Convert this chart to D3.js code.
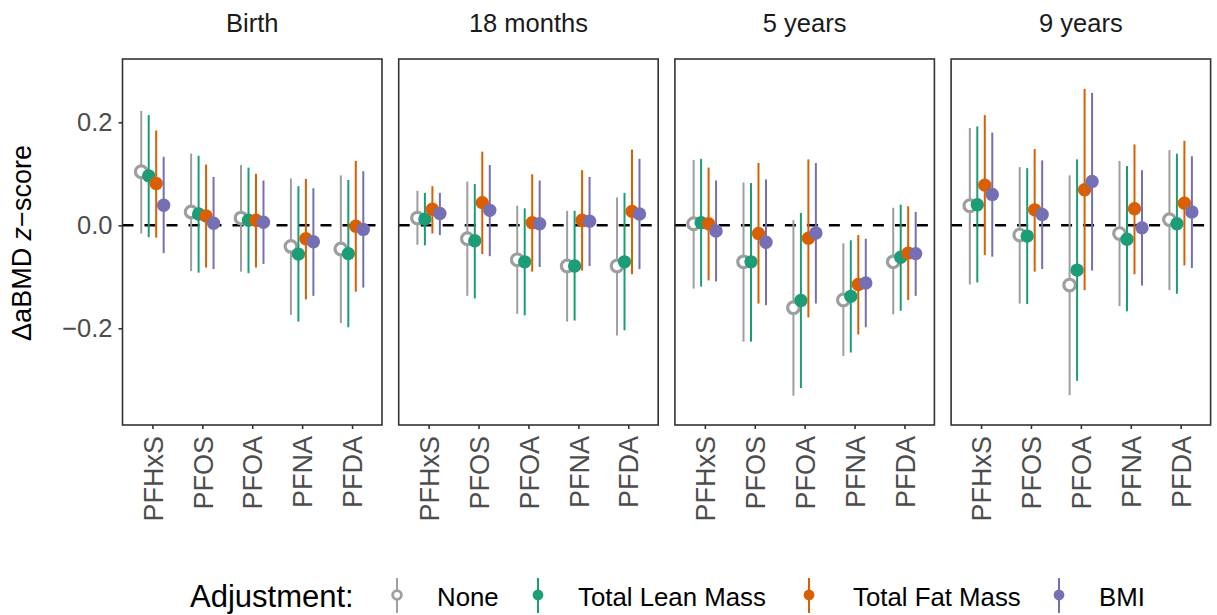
<!DOCTYPE html>
<html><head><meta charset="utf-8">
<script src="https://cdn.jsdelivr.net/npm/d3@7"></script>
<style>body{margin:0;background:#fff}svg{display:block;font-family:"Liberation Sans",Arial,sans-serif}</style>
</head><body><svg id="c" width="1217" height="615"></svg>
<script>
const timepoints = ["Birth", "18 months", "5 years", "9 years"];
const compounds = ["PFHxS", "PFOS", "PFOA", "PFNA", "PFDA"];
const adjustments = ["None", "Total Lean Mass", "Total Fat Mass", "BMI"];
const adjColors = ["#9E9E9E", "#1B9E77", "#D95F02", "#7570B3"];
const yTicks = [-0.2, 0.0, 0.2];

// values ordered: timepoint-major, compound-minor
const noneEst = [0.104, 0.026, 0.014, -0.041, -0.046,  0.014, -0.026, -0.067, -0.079, -0.079,  0.003, -0.071, -0.160, -0.145, -0.071,  0.038, -0.019, -0.116, -0.016, 0.011];
const noneLo  = [-0.016, -0.089, -0.090, -0.174, -0.190,  -0.038, -0.137, -0.172, -0.187, -0.214,  -0.123, -0.226, -0.331, -0.254, -0.173,  -0.115, -0.152, -0.330, -0.157, -0.126];
const noneHi  = [0.222, 0.139, 0.117, 0.091, 0.097,  0.067, 0.085, 0.038, 0.028, 0.054,  0.127, 0.083, 0.010, -0.035, 0.034,  0.189, 0.113, 0.097, 0.125, 0.146];

const leanEst = [0.096, 0.022, 0.010, -0.056, -0.055,  0.012, -0.030, -0.071, -0.079, -0.071,  0.005, -0.071, -0.146, -0.138, -0.062,  0.040, -0.021, -0.087, -0.027, 0.003];
const leanLo  = [-0.023, -0.092, -0.093, -0.187, -0.198,  -0.039, -0.142, -0.175, -0.185, -0.204,  -0.119, -0.226, -0.316, -0.247, -0.166,  -0.111, -0.153, -0.302, -0.167, -0.133];
const leanHi  = [0.214, 0.135, 0.112, 0.076, 0.088,  0.063, 0.080, 0.033, 0.028, 0.063,  0.129, 0.082, 0.024, -0.029, 0.040,  0.192, 0.111, 0.128, 0.115, 0.139];

const fatEst = [0.081, 0.018, 0.010, -0.026, -0.002,  0.031, 0.044, 0.005, 0.010, 0.027,  0.003, -0.016, -0.025, -0.115, -0.054,  0.078, 0.030, 0.069, 0.032, 0.043];
const fatLo  = [-0.024, -0.082, -0.082, -0.144, -0.129,  -0.016, -0.056, -0.090, -0.088, -0.095,  -0.107, -0.152, -0.179, -0.212, -0.145,  -0.058, -0.090, -0.126, -0.095, -0.078];
const fatHi  = [0.184, 0.118, 0.100, 0.090, 0.125,  0.076, 0.143, 0.099, 0.107, 0.147,  0.112, 0.121, 0.128, -0.019, 0.037,  0.214, 0.148, 0.265, 0.157, 0.164];

const bmiEst = [0.039, 0.004, 0.006, -0.032, -0.008,  0.023, 0.029, 0.003, 0.008, 0.022,  -0.011, -0.033, -0.015, -0.112, -0.055,  0.060, 0.021, 0.085, -0.005, 0.026];
const bmiLo  = [-0.054, -0.085, -0.075, -0.137, -0.121,  -0.019, -0.060, -0.081, -0.079, -0.085,  -0.109, -0.155, -0.152, -0.198, -0.137,  -0.061, -0.085, -0.088, -0.117, -0.083];
const bmiHi  = [0.133, 0.094, 0.087, 0.072, 0.105,  0.063, 0.117, 0.087, 0.094, 0.129,  0.087, 0.089, 0.121, -0.026, 0.026,  0.180, 0.126, 0.257, 0.107, 0.134];

const series = [
  {est: noneEst, lo: noneLo, hi: noneHi},
  {est: leanEst, lo: leanLo, hi: leanHi},
  {est: fatEst, lo: fatLo, hi: fatHi},
  {est: bmiEst, lo: bmiLo, hi: bmiHi}
];

const svg = d3.select("#c");
const panelTop = 59, panelBottom = 425, panelW = 259.5, panelStep = 276.2, panelLeft0 = 122.5;
const y = d3.scaleLinear().domain([-0.3878, 0.3229]).range([panelBottom, panelTop]);
const dodge = d3.scalePoint().domain(adjustments).range([-0.225, 0.225]);

timepoints.forEach((tp, ti) => {
  const left = panelLeft0 + ti * panelStep;
  const x = d3.scaleLinear().domain([0.4, 5.6]).range([left, left + panelW]);
  const g = svg.append("g");

  g.append("text").attr("x", left + panelW / 2).attr("y", 32).attr("text-anchor", "middle")
    .attr("font-size", 25.5).attr("fill", "#1A1A1A").text(tp);

  g.append("line").attr("x1", left).attr("x2", left + panelW).attr("y1", y(0)).attr("y2", y(0))
    .attr("stroke", "#000").attr("stroke-width", 2.4).attr("stroke-dasharray", "11,11");

  series.forEach((s, si) => {
    const col = adjColors[si];
    compounds.forEach((c, ci) => {
      const idx = ti * 5 + ci;
      const cx = x(ci + 1 + dodge(adjustments[si]));
      g.append("line").attr("x1", cx).attr("x2", cx).attr("y1", y(s.lo[idx])).attr("y2", y(s.hi[idx]))
        .attr("stroke", col).attr("stroke-width", 2);
      if (si === 0) {
        g.append("circle").attr("cx", cx).attr("cy", y(s.est[idx])).attr("r", 5.8)
          .attr("fill", "#fff").attr("stroke", col).attr("stroke-width", 3.2);
      } else {
        g.append("circle").attr("cx", cx).attr("cy", y(s.est[idx])).attr("r", 6.7).attr("fill", col);
      }
    });
  });

  g.append("rect").attr("x", left).attr("y", panelTop).attr("width", panelW).attr("height", panelBottom - panelTop)
    .attr("fill", "none").attr("stroke", "#333333").attr("stroke-width", 1.6);

  const xAxis = d3.axisBottom(x).tickValues([1, 2, 3, 4, 5]).tickFormat((d) => compounds[d - 1]).tickSize(4).tickSizeOuter(0);
  const xa = g.append("g").attr("transform", `translate(0,${panelBottom})`).call(xAxis);
  xa.select(".domain").remove();
  xa.selectAll(".tick line").attr("stroke", "#333333").attr("stroke-width", 1.6);
  xa.selectAll(".tick text").attr("font-size", 27).attr("fill", "#4D4D4D").attr("font-family", null)
    .attr("transform", "rotate(-90)").attr("text-anchor", "end").attr("x", -11).attr("y", 0).attr("dy", "0.36em");

  if (ti === 0) {
    const yAxis = d3.axisLeft(y).tickValues(yTicks).tickFormat((d) => d3.format(".1f")(d).replace("-", "\u2212")).tickSize(4).tickSizeOuter(0);
    const ya = g.append("g").attr("transform", `translate(${left},0)`).call(yAxis);
    ya.select(".domain").remove();
    ya.selectAll(".tick line").attr("stroke", "#333333").attr("stroke-width", 1.6);
    ya.selectAll(".tick text").attr("font-size", 25.5).attr("fill", "#4D4D4D").attr("font-family", null).attr("x", -10);
  }
});

const yt = svg.append("text").attr("transform", "translate(31,243) rotate(-90)").attr("text-anchor", "middle")
  .attr("font-size", 27).attr("fill", "#000");
yt.append("tspan").text("\u0394aBMD ");
yt.append("tspan").attr("font-style", "italic").text("z");
yt.append("tspan").text("\u2212score");

const lg = svg.append("g");
lg.append("text").attr("x", 190).attr("y", 607).attr("font-size", 31).attr("fill", "#000").text("Adjustment:");
const keyX = [397, 538, 809, 1059];
const labX = [437, 578, 853, 1099];
adjustments.forEach((a, i) => {
  lg.append("line").attr("x1", keyX[i]).attr("x2", keyX[i]).attr("y1", 578).attr("y2", 613)
    .attr("stroke", adjColors[i]).attr("stroke-width", 2);
  if (i === 0) {
    lg.append("circle").attr("cx", keyX[i]).attr("cy", 595).attr("r", 4.4).attr("fill", "#fff")
      .attr("stroke", adjColors[i]).attr("stroke-width", 2.8);
  } else {
    lg.append("circle").attr("cx", keyX[i]).attr("cy", 595).attr("r", 5.4).attr("fill", adjColors[i]);
  }
  lg.append("text").attr("x", labX[i]).attr("y", 606).attr("font-size", 25.8).attr("fill", "#000").text(a);
});
</script></body></html>
